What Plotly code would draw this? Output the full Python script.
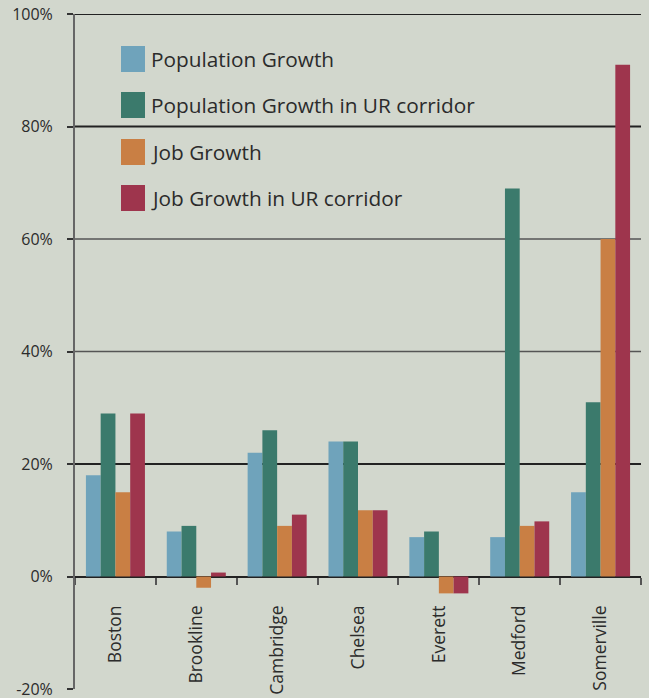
import plotly.graph_objects as go

# ---- data ----
cities = ["Boston", "Brookline", "Cambridge", "Chelsea", "Everett", "Medford", "Somerville"]
series_names = ["Population Growth", "Population Growth in UR corridor",
                "Job Growth", "Job Growth in UR corridor"]
pop_growth = [18, 8, 22, 24, 7, 7, 15]
pop_growth_ur = [29, 9, 26, 24, 8, 69, 31]
job_growth = [15, -2, 9, 11.8, -3, 9, 60]
job_growth_ur = [29, 0.7, 11, 11.8, -3, 9.8, 91]
y_ticks = [-20, 0, 20, 40, 60, 80, 100]
y_tick_labels = ["-20%", "0%", "20%", "40%", "60%", "80%", "100%"]

# ---- style ----
colors = ["#6fa3bb", "#3b7a6c", "#c97f44", "#9e354d"]
bg = "#d2d7cd"
text_color = "#2b2b2b"
font_family = "Open Sans, Noto Sans, sans-serif"
W, H = 649, 698
ML, MR, MT, MB = 75, 8, 14, 9
y_min, y_max = -20, 100

fig = go.Figure()
for name, vals, col in zip(series_names,
                           [pop_growth, pop_growth_ur, job_growth, job_growth_ur],
                           colors):
    fig.add_trace(go.Bar(x=cities, y=vals, name=name, marker=dict(color=col, line=dict(width=0))))

# gridlines (dark for some, lighter grey for others as in reference)
grid_style = {100: ("#222222", 2), 80: ("#222222", 2), 60: ("#555555", 1.5),
              40: ("#555555", 1.5), 20: ("#222222", 2)}
for v, (c, w) in grid_style.items():
    fig.add_shape(type="line", xref="paper", x0=0, x1=1, yref="y", y0=v, y1=v,
                  line=dict(color=c, width=w), layer="below")

# manual legend with large square swatches (positions in screen px)
plot_w = W - ML - MR
plot_h = H - MT - MB
def px_to_paper_x(px):
    return (px - ML) / plot_w
def px_to_paper_y(py):
    return (H - MB - py) / plot_h

row_centers_px = [59, 105, 152, 198]
for name, col, cy in zip(series_names, colors, row_centers_px):
    fig.add_shape(type="rect", xref="paper", yref="paper",
                  x0=px_to_paper_x(121), x1=px_to_paper_x(145),
                  y0=px_to_paper_y(cy + 13), y1=px_to_paper_y(cy - 13),
                  fillcolor=col, line=dict(width=0), layer="above")
    fig.add_annotation(xref="paper", yref="paper", x=px_to_paper_x(149), y=px_to_paper_y(cy),
                       text=name, showarrow=False, xanchor="left", yanchor="middle",
                       font=dict(size=20.8, color=text_color, family=font_family))

fig.update_layout(
    width=W, height=H,
    margin=dict(l=ML, r=MR, t=MT, b=MB, autoexpand=False),
    paper_bgcolor=bg, plot_bgcolor=bg,
    barmode="group", bargap=0.27, bargroupgap=0,
    showlegend=False,
    font=dict(family=font_family, color=text_color, size=16),
)
fig.update_yaxes(
    range=[y_min, y_max], tickvals=y_ticks, ticktext=y_tick_labels,
    showgrid=False, zeroline=False,
    showline=True, linecolor="#666666", linewidth=2,
    ticks="outside", ticklen=6, tickcolor="#333333", tickwidth=1.5,
    tickfont=dict(size=16, color=text_color), ticklabelstandoff=11,
    ticklabeloverflow="allow",
    automargin=False,
)
fig.update_xaxes(
    type="category", range=[-0.5, 6.5],
    anchor="free", position=(0 - y_min) / (y_max - y_min),
    showgrid=False, zeroline=False,
    showline=True, linecolor="#222222", linewidth=2,
    ticks="outside", tickson="boundaries", ticklen=7, tickcolor="#555555", tickwidth=2,
    tickangle=-90, tickfont=dict(size=17.5, color=text_color), ticklabelstandoff=21,
    ticklabeloverflow="allow",
    layer="below traces", automargin=False,
)

fig.write_html("out.html", config={"displayModeBar": False},
               post_script="document.body.style.margin='0px';")
